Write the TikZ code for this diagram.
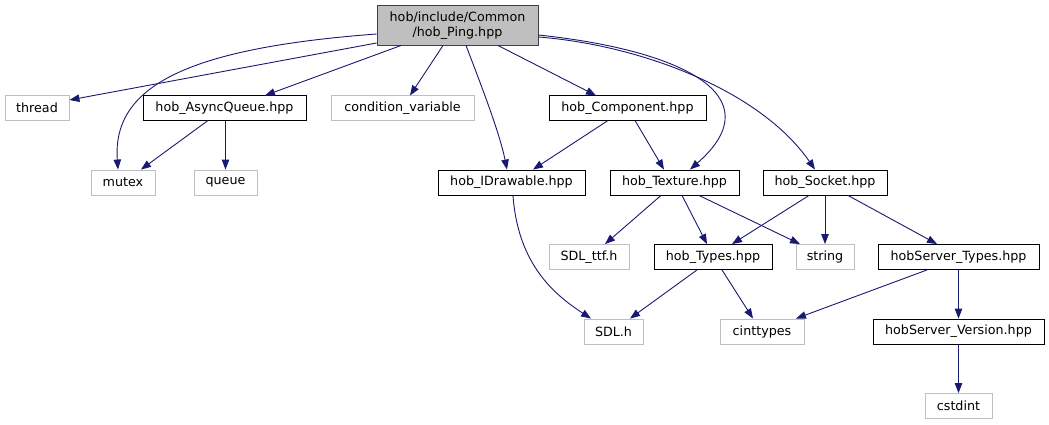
\documentclass[tikz,border=0pt]{standalone}
\usepackage{fontspec}
\setmainfont{DejaVu Sans}
\usetikzlibrary{arrows.meta}
\definecolor{edgec}{HTML}{191970}
\definecolor{grayb}{HTML}{BFBFBF}
\definecolor{darkb}{HTML}{404040}
\tikzset{
  box/.style={draw, rectangle, inner sep=0pt, minimum height=25pt, font=\fontsize{12.7}{15}\selectfont, line width=0.9pt, fill=white},
  sysbox/.style={box, draw=grayb},
  locbox/.style={box, draw=black},
  rootbox/.style={box, draw=darkb, fill=grayb, minimum height=40pt, align=center},
  edge/.style={draw=edgec, line width=0.9pt, -{Triangle[length=10pt,width=7.5pt,fill=edgec]}},
}
\begin{document}
\begin{tikzpicture}[x=1pt,y=-1pt]
\useasboundingbox (0,0) rectangle (1049,425);
% nodes
\node[rootbox, minimum width=161pt] (root) at (457.5,25.5) {hob/include/Common\\/hob\_Ping.hpp};
\node[sysbox, minimum width=64pt] (thread) at (37,108) {thread};
\node[locbox, minimum width=163pt] (aq) at (224.5,108) {hob\_AsyncQueue.hpp};
\node[sysbox, minimum width=143pt] (cv) at (402.5,108) {condition\_variable};
\node[locbox, minimum width=157pt] (comp) at (627.5,108) {hob\_Component.hpp};
\node[sysbox, minimum width=64pt] (mutex) at (123,182.5) {mutex};
\node[sysbox, minimum width=63pt] (queue) at (225.5,182.5) {queue};
\node[locbox, minimum width=147pt] (idraw) at (511.5,182.5) {hob\_IDrawable.hpp};
\node[locbox, minimum width=129pt] (tex) at (674.5,182.5) {hob\_Texture.hpp};
\node[locbox, minimum width=124pt] (sock) at (825,182.5) {hob\_Socket.hpp};
\node[sysbox, minimum width=80pt] (ttf) at (589,257) {SDL\_ttf.h};
\node[locbox, minimum width=118pt] (types) at (713,257) {hob\_Types.hpp};
\node[sysbox, minimum width=58pt] (string) at (825,257) {string};
\node[locbox, minimum width=161pt] (stypes) at (958.5,257) {hobServer\_Types.hpp};
\node[sysbox, minimum width=59pt] (sdl) at (613.5,331.5) {SDL.h};
\node[sysbox, minimum width=84pt] (cint) at (762,331.5) {cinttypes};
\node[locbox, minimum width=171pt] (ver) at (958.5,331.5) {hobServer\_Version.hpp};
\node[sysbox, minimum width=67pt] (cstd) at (958.5,406) {cstdint};
% edges from root
\path[edge] (root.west |- 0,43) -- (thread.east |- 0,100);
\path[edge] (root.west |- 0,34) .. controls (190,48) and (112,85) .. (mutex.north -| 118,0);
\path[edge] (401,45.5) -- (265,95.5);
\path[edge] (443,45.5) -- (410,95.5);
\path[edge] (466,45.5) .. controls (485,95) and (500,135) .. (idraw.north -| 507,0);
\path[edge] (498,45.5) -- (596,95.5);
\path[edge] (root.east |- 0,35) .. controls (680,50) and (775,95) .. (tex.north -| 690,0);
\path[edge] (root.east |- 0,37) .. controls (640,45) and (760,90) .. (sock.north -| 815,0);
% second level
\path[edge] (208,120.5) -- (mutex.north -| 141,0);
\path[edge] (aq.south -| queue.north) -- (queue.north);
\path[edge] (608,120.5) -- (idraw.north -| 533,0);
\path[edge] (635,120.5) -- (tex.north -| 664,0);
\path[edge] (idraw.south -| 513,0) .. controls (518,265) and (555,295) .. (sdl.north -| 591,0);
\path[edge] (tex.south -| 661,0) -- (ttf.north -| 605,0);
\path[edge] (tex.south -| 682,0) -- (types.north -| 707,0);
\path[edge] (tex.south -| 699,0) -- (string.north -| 800,0);
\path[edge] (sock.south -| 809,0) -- (types.north -| 732,0);
\path[edge] (sock.south) -- (string.north);
\path[edge] (sock.south -| 848,0) -- (stypes.north -| 937,0);
\path[edge] (types.south -| 697,0) -- (sdl.north -| 630,0);
\path[edge] (types.south -| 722,0) -- (cint.north -| 753,0);
\path[edge] (stypes.south -| 927,0) -- (cint.north -| 796,0);
\path[edge] (stypes.south) -- (ver.north);
\path[edge] (ver.south) -- (cstd.north);
\end{tikzpicture}
\end{document}
